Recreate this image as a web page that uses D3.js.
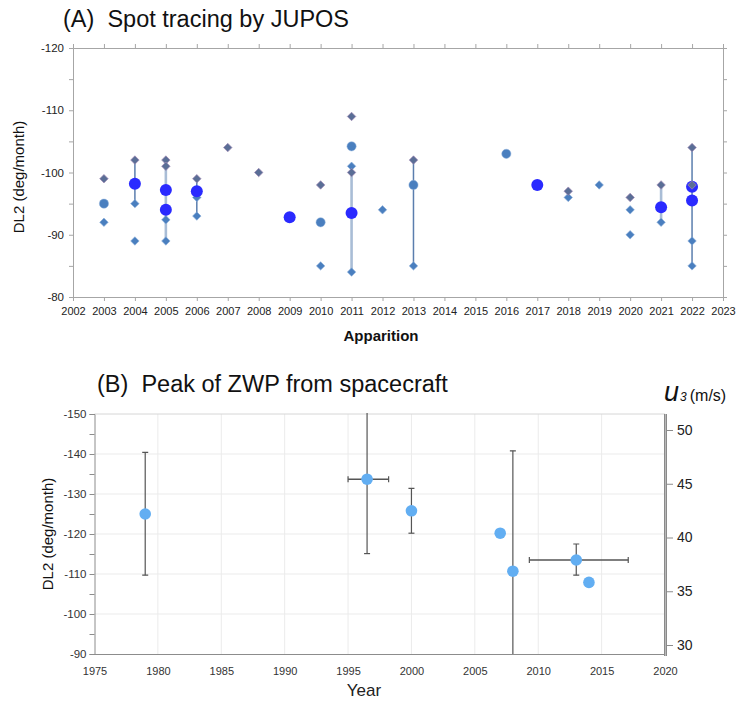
<!DOCTYPE html>
<html>
<head>
<meta charset="utf-8">
<script src="https://cdn.jsdelivr.net/npm/d3@7/dist/d3.min.js"></script>
<style>
  html, body { margin: 0; padding: 0; background: #fff; }
  svg { display: block; font-family: "Liberation Sans", Arial, sans-serif; }
  text { white-space: pre; }
</style>
</head>
<body>
<svg id="chart" width="740" height="702"></svg>
<script>
// ---------- Panel A: JUPOS spot tracing (apparition, DL2 deg/month) ----------
const apparitionTicks = d3.range(2002, 2024);
const darkDiamonds = [
  [2003, -99], [2004, -102], [2005, -102], [2005, -101], [2006, -99],
  [2007, -104], [2008, -100], [2010, -98], [2011, -109], [2011, -100],
  [2013, -102], [2018, -97], [2020, -96], [2021, -98], [2022, -104], [2022, -98]
];
const lightDiamonds = [
  [2003, -92], [2004, -95], [2004, -89], [2005, -92.4], [2005, -89],
  [2006, -96], [2006, -93], [2010, -85], [2011, -101], [2011, -84],
  [2012, -94], [2013, -85], [2018, -96], [2019, -98], [2020, -94],
  [2020, -90], [2021, -92], [2022, -89], [2022, -85]
];
const smallCircles = [
  [2003, -95], [2010, -92], [2011, -104.2], [2013, -98], [2016, -103]
];
const bigCircles = [
  [2004, -98.2], [2005, -97.2], [2005, -94], [2006, -97], [2009, -92.8],
  [2011, -93.5], [2017, -98], [2021, -94.4], [2022, -97.7], [2022, -95.5]
];
// vertical spans: [year, from, to, faint?]
const spans = [
  [2004, -102, -95, false], [2005, -102, -89, true], [2006, -99, -93, false],
  [2011, -100, -84, true], [2013, -102, -85, false], [2021, -98, -92, true],
  [2022, -104, -85, false]
];

// ---------- Panel B: ZWP peak from spacecraft (year, DL2 deg/month) ----------
const yearTicks = d3.range(1975, 2021, 5);
const craftYear = [1979, 1996.5, 2000, 2007, 2008, 2013, 2014];
const craftDL2  = [-125, -133.7, -125.8, -120.2, -110.7, -113.5, -107.9];
// vertical error extents (upper = more negative), null = none
const errUpper  = [-140.4, -155, -131.4, null, -140.8, -117.5, null];
const errLower  = [-109.7, -115.1, -120.2, null, -85, -109.7, null];
// horizontal error extents
const errLeft   = [null, 1995.0, null, null, null, 2009.3, null];
const errRight  = [null, 1998.2, null, null, null, 2017.1, null];
const u3Ticks = [30, 35, 40, 45, 50];

const svg = d3.select("#chart");
const axisGray = "#a6a6a6";
const plainNum = d => String(d);   // keep ASCII hyphen for negatives

// ================= Panel A =================
const xA = d3.scaleLinear().domain([2002, 2023]).range([73, 723]);
const yA = d3.scaleLinear().domain([-120, -80]).range([48, 297]);
const gA = svg.append("g");

gA.append("text").attr("x", 63).attr("y", 27).attr("font-size", 23.5).attr("fill", "#111")
  .text("(A)  Spot tracing by JUPOS");

function styleAxis(g, col) {
  g.select(".domain").attr("stroke", col);
  g.selectAll(".tick line").attr("stroke", col);
  g.selectAll(".tick text").attr("fill", "#222").attr("font-family", "Liberation Sans, Arial, sans-serif");
}

const aBottom = gA.append("g").attr("transform", "translate(0,297)")
  .call(d3.axisBottom(xA).tickValues(apparitionTicks).tickFormat(plainNum).tickSizeOuter(0).tickSize(4).tickPadding(6));
aBottom.selectAll(".tick text").attr("font-size", 11);
styleAxis(aBottom, axisGray);

const aTop = gA.append("g").attr("transform", "translate(0,48)")
  .call(d3.axisTop(xA).tickValues(apparitionTicks).tickFormat("").tickSizeOuter(0).tickSize(4));
styleAxis(aTop, axisGray);

const aLeft = gA.append("g").attr("transform", "translate(73,0)")
  .call(d3.axisLeft(yA).tickValues(d3.range(-120, -79, 5))
    .tickFormat(d => d % 10 === 0 ? plainNum(d) : "").tickSizeOuter(0).tickSize(4).tickPadding(5));
aLeft.selectAll(".tick text").attr("font-size", 11.5);
styleAxis(aLeft, axisGray);

const aRight = gA.append("g").attr("transform", "translate(723,0)")
  .call(d3.axisRight(yA).tickValues(d3.range(-120, -79, 5)).tickFormat("").tickSizeOuter(0).tickSize(4));
styleAxis(aRight, axisGray);

gA.append("text").attr("transform", "translate(24,177) rotate(-90)").attr("text-anchor", "middle")
  .attr("font-size", 15).attr("fill", "#111").text("DL2 (deg/month)");
gA.append("text").attr("x", 381).attr("y", 341).attr("text-anchor", "middle")
  .attr("font-size", 15).attr("font-weight", "bold").attr("fill", "#111").text("Apparition");

// range lines
gA.selectAll("line.span").data(spans).join("line").attr("class", "span")
  .attr("x1", d => xA(d[0])).attr("x2", d => xA(d[0]))
  .attr("y1", d => yA(d[1])).attr("y2", d => yA(d[2]))
  .attr("stroke", d => d[3] ? "#a9bdd6" : "#5b7eae")
  .attr("stroke-width", d => d[3] ? 2.6 : 1.5);

const diamond = d3.symbol().type(d3.symbolDiamond2).size(46);

gA.selectAll("path.ld").data(lightDiamonds).join("path").attr("class", "ld")
  .attr("d", diamond).attr("transform", d => `translate(${xA(d[0])},${yA(d[1])})`)
  .attr("fill", "#4a7fbf").attr("stroke", "#8fb0da").attr("stroke-width", 0.6);

gA.selectAll("circle.sc").data(smallCircles).join("circle").attr("class", "sc")
  .attr("cx", d => xA(d[0])).attr("cy", d => yA(d[1])).attr("r", 4.6)
  .attr("fill", "#4a7fbf").attr("stroke", "#8fb0da").attr("stroke-width", 0.5);

gA.selectAll("circle.bc").data(bigCircles).join("circle").attr("class", "bc")
  .attr("cx", d => xA(d[0])).attr("cy", d => yA(d[1])).attr("r", 6)
  .attr("fill", "#2a2aff");

gA.selectAll("path.dd").data(darkDiamonds).join("path").attr("class", "dd")
  .attr("d", diamond).attr("transform", d => `translate(${xA(d[0])},${yA(d[1])})`)
  .attr("fill", "#5a6e96").attr("stroke", "#a08ab4").attr("stroke-width", 0.7);

// ================= Panel B =================
const xB = d3.scaleLinear().domain([1975, 2020]).range([94.5, 665]);
const yB = d3.scaleLinear().domain([-150, -90]).range([414, 654]);
const uB = d3.scaleLinear().domain([30, 50]).range([645, 430]);
const gB = svg.append("g");

gB.append("text").attr("x", 97).attr("y", 392).attr("font-size", 23.5).attr("fill", "#111")
  .text("(B)  Peak of ZWP from spacecraft");

// gridlines
gB.selectAll("line.gx").data(yearTicks.slice(1, -1)).join("line").attr("class", "gx")
  .attr("x1", d => xB(d)).attr("x2", d => xB(d)).attr("y1", 414).attr("y2", 654)
  .attr("stroke", "#ebebeb").attr("stroke-width", 1);
gB.selectAll("line.gy").data(d3.range(-140, -90, 10)).join("line").attr("class", "gy")
  .attr("x1", 94.5).attr("x2", 665).attr("y1", d => yB(d)).attr("y2", d => yB(d))
  .attr("stroke", "#ebebeb").attr("stroke-width", 1);
gB.append("line").attr("x1", 94.5).attr("x2", 665).attr("y1", 414).attr("y2", 414)
  .attr("stroke", "#d6d6d6");

const bLeft = gB.append("g").attr("transform", "translate(94.5,0)")
  .call(d3.axisLeft(yB).tickValues(d3.range(-150, -89, 5))
    .tickFormat(d => d % 10 === 0 ? plainNum(d) : "").tickSizeOuter(0).tickSize(5).tickPadding(3));
bLeft.selectAll(".tick text").attr("font-size", 11.5);
styleAxis(bLeft, "#8c8c8c");
bLeft.selectAll(".tick text").attr("fill", "#333");

const bBottom = gB.append("g").attr("transform", "translate(0,654)")
  .call(d3.axisBottom(xB).tickValues(yearTicks).tickFormat(plainNum).tickSizeOuter(0).tickSize(0).tickPadding(13));
bBottom.selectAll(".tick text").attr("font-size", 11);
styleAxis(bBottom, "#8c8c8c");
bBottom.selectAll(".tick text").attr("fill", "#333");

const bRight = gB.append("g").attr("transform", "translate(666,0)")
  .call(d3.axisRight(uB).tickValues(u3Ticks).tickSizeOuter(0).tickSize(7).tickPadding(4));
bRight.select(".domain").remove();
bRight.selectAll(".tick line").attr("stroke", "#8c8c8c");
bRight.selectAll(".tick text").attr("font-size", 14).attr("fill", "#222");
gB.append("line").attr("x1", 665.5).attr("x2", 665.5).attr("y1", 414).attr("y2", 656)
  .attr("stroke", "#8a8a8a").attr("stroke-width", 3);
gB.append("line").attr("x1", 665.5).attr("x2", 665.5).attr("y1", 414).attr("y2", 656)
  .attr("stroke", "#c4c4c4").attr("stroke-width", 0.8);

gB.append("text").attr("transform", "translate(53,534) rotate(-90)").attr("text-anchor", "middle")
  .attr("font-size", 15).attr("fill", "#111").text("DL2 (deg/month)");
gB.append("text").attr("x", 364).attr("y", 696).attr("text-anchor", "middle")
  .attr("font-size", 17).attr("fill", "#222").text("Year");

const uLab = gB.append("text").attr("x", 664).attr("y", 401).attr("fill", "#111");
uLab.append("tspan").attr("font-size", 27).attr("font-style", "italic").text("u");
uLab.append("tspan").attr("font-size", 12).attr("font-style", "italic").attr("dx", 1).text("3");
uLab.append("tspan").attr("font-size", 16).attr("dx", 3).text("(m/s)");

const craft = craftYear.map((y, i) => ({
  x: y, v: craftDL2[i], up: errUpper[i], lo: errLower[i], l: errLeft[i], r: errRight[i]
}));

gB.append("clipPath").attr("id", "plotB").append("rect")
  .attr("x", 94.5).attr("y", 413).attr("width", 571).attr("height", 241);
const errG = gB.append("g").attr("clip-path", "url(#plotB)");
const errCol = "#555";
const cap = 3;

craft.filter(d => d.up !== null).forEach(d => {
  const cx = xB(d.x);
  errG.append("line").attr("x1", cx).attr("x2", cx).attr("y1", yB(d.up)).attr("y2", yB(d.lo))
    .attr("stroke", errCol).attr("stroke-width", 1.2);
  [d.up, d.lo].forEach(v => {
    if (v > -150 && v < -90) {
      errG.append("line").attr("x1", cx - cap).attr("x2", cx + cap).attr("y1", yB(v)).attr("y2", yB(v))
        .attr("stroke", errCol).attr("stroke-width", 1.2);
    }
  });
});
craft.filter(d => d.l !== null).forEach(d => {
  const cy = yB(d.v);
  errG.append("line").attr("x1", xB(d.l)).attr("x2", xB(d.r)).attr("y1", cy).attr("y2", cy)
    .attr("stroke", errCol).attr("stroke-width", 1.4);
  [d.l, d.r].forEach(v => {
    errG.append("line").attr("x1", xB(v)).attr("x2", xB(v)).attr("y1", cy - cap).attr("y2", cy + cap)
      .attr("stroke", errCol).attr("stroke-width", 1.2);
  });
});

gB.selectAll("circle.pt").data(craft).join("circle").attr("class", "pt")
  .attr("cx", d => xB(d.x)).attr("cy", d => yB(d.v)).attr("r", 5.8)
  .attr("fill", "#62aef2");
</script>
</body>
</html>
